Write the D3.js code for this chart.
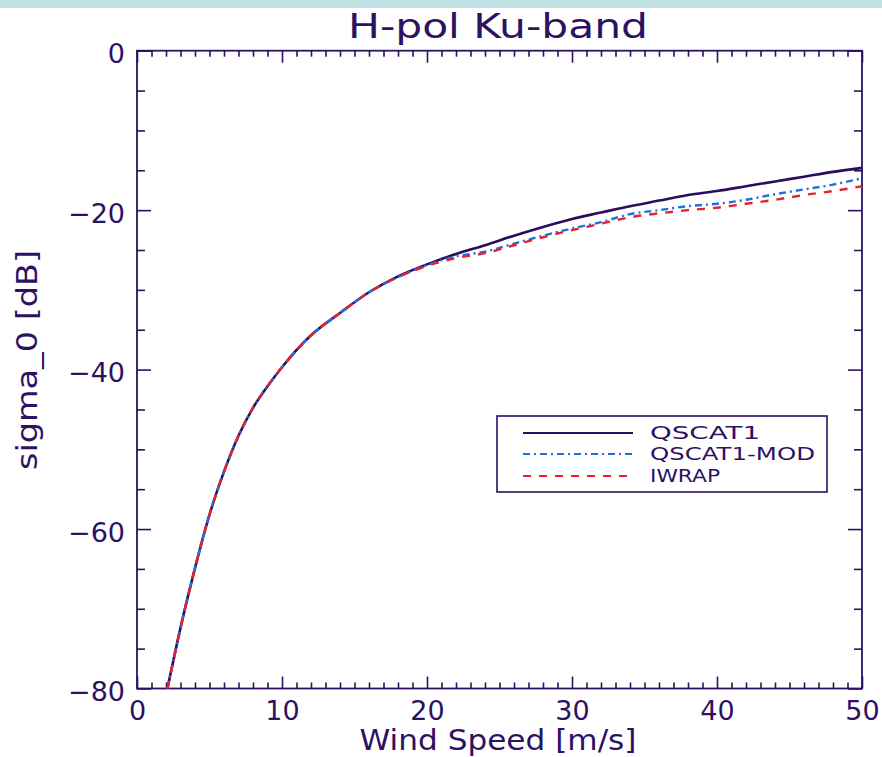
<!DOCTYPE html>
<html><head><meta charset="utf-8">
<script src="https://cdn.jsdelivr.net/npm/d3@7"></script>
<style>body{margin:0;background:#fff;} text{font-family:"DejaVu Sans",sans-serif;}</style>
</head><body>
<svg id="c" width="882" height="757"></svg>
<script>
const title = "H-pol Ku-band";
const xLabel = "Wind Speed [m/s]";
const yLabel = "sigma_0 [dB]";
const seriesNames = ["QSCAT1", "QSCAT1-MOD", "IWRAP"];
const windSpeed = [2.1, 3, 4, 5, 6, 7, 8, 9, 10, 12, 14, 16, 18, 20, 22, 24, 26, 28, 30, 32, 34, 36, 38, 40, 42, 44, 46, 48, 50];
const qscat1 =    [-80, -72.4, -64.9, -58.2, -52.8, -48.3, -44.8, -42.1, -39.7, -35.7, -32.9, -30.3, -28.3, -26.8, -25.5, -24.4, -23.2, -22.1, -21.1, -20.3, -19.5, -18.8, -18.1, -17.6, -17.0, -16.4, -15.8, -15.2, -14.7];
const qscat1Mod = [-80, -72.4, -64.9, -58.2, -52.8, -48.3, -44.8, -42.1, -39.7, -35.7, -32.9, -30.3, -28.4, -26.9, -25.8, -25.2, -24.2, -23.2, -22.3, -21.5, -20.5, -20.0, -19.5, -19.2, -18.7, -18.0, -17.4, -16.8, -16.0];
const iwrap =     [-80, -72.4, -64.9, -58.2, -52.8, -48.3, -44.8, -42.1, -39.7, -35.7, -32.9, -30.3, -28.4, -27.0, -26.0, -25.4, -24.4, -23.4, -22.5, -21.7, -20.9, -20.4, -20.0, -19.7, -19.2, -18.7, -18.1, -17.6, -17.0];
const xTicks = [0, 10, 20, 30, 40, 50];
const yTicks = [0, -20, -40, -60, -80];

const ink = "#2d1163";
const colors = ["#2a0d5c", "#1f6fe0", "#e8202a"];
const dashes = [null, "7,4,2,4", "8,8"];
const widths = [2.6, 2.4, 2.4];

const svg = d3.select("#c");
svg.append("rect").attr("x",0).attr("y",0).attr("width",882).attr("height",8).attr("fill","#bfe2e4");

const L = 137, R = 862, T = 50.7, B = 688.5;
const x = d3.scaleLinear().domain([0, 50]).range([L, R]);
const y = d3.scaleLinear().domain([-80, 0]).range([B, T]);

svg.append("rect").attr("x", L).attr("y", T).attr("width", R - L).attr("height", B - T)
  .attr("fill", "none").attr("stroke", ink).attr("stroke-width", 1.8);

function styleAxis(g){
  g.select(".domain").remove();
  g.selectAll("line").attr("stroke", ink).attr("stroke-width", 1.6);
  g.selectAll("text").attr("fill", ink).style("font-size","27px").style("font-family","DejaVu Sans, sans-serif");
}
const minorX = d3.range(0, 51, 1).filter(v => v % 10 !== 0);
const minorY = d3.range(-80, 1, 5).filter(v => v % 20 !== 0);

svg.append("g").attr("transform",`translate(0,${B})`)
  .call(d3.axisBottom(x).tickValues(xTicks).tickFormat(d3.format("d")).tickSizeInner(-12).tickSizeOuter(0).tickPadding(12))
  .call(styleAxis);
svg.append("g").attr("transform",`translate(0,${B})`)
  .call(d3.axisBottom(x).tickValues(minorX).tickFormat("").tickSizeInner(-6).tickSizeOuter(0)).call(styleAxis);
svg.append("g").attr("transform",`translate(0,${T})`)
  .call(d3.axisTop(x).tickValues(xTicks).tickFormat("").tickSizeInner(-12).tickSizeOuter(0)).call(styleAxis);
svg.append("g").attr("transform",`translate(0,${T})`)
  .call(d3.axisTop(x).tickValues(minorX).tickFormat("").tickSizeInner(-6).tickSizeOuter(0)).call(styleAxis);
svg.append("g").attr("transform",`translate(${L},0)`)
  .call(d3.axisLeft(y).tickValues(yTicks).tickFormat(d3.format("d")).tickSizeInner(-14).tickSizeOuter(0).tickPadding(12))
  .call(styleAxis)
  .call(g => g.selectAll("text").attr("dy", "0.45em"));
svg.append("g").attr("transform",`translate(${L},0)`)
  .call(d3.axisLeft(y).tickValues(minorY).tickFormat("").tickSizeInner(-8).tickSizeOuter(0)).call(styleAxis);
svg.append("g").attr("transform",`translate(${R},0)`)
  .call(d3.axisRight(y).tickValues(yTicks).tickFormat("").tickSizeInner(-14).tickSizeOuter(0)).call(styleAxis);
svg.append("g").attr("transform",`translate(${R},0)`)
  .call(d3.axisRight(y).tickValues(minorY).tickFormat("").tickSizeInner(-8).tickSizeOuter(0)).call(styleAxis);

const series = [qscat1, qscat1Mod, iwrap];
const line = d3.line().x(d => x(d[0])).y(d => y(d[1])).curve(d3.curveMonotoneX);
series.forEach((vals, i) => {
  const pts = windSpeed.map((w, j) => [w, vals[j]]);
  svg.append("path").attr("d", line(pts)).attr("fill","none")
    .attr("stroke", colors[i]).attr("stroke-width", widths[i])
    .attr("stroke-dasharray", dashes[i]);
});

svg.append("text").attr("x", 498).attr("y", 38).attr("text-anchor","middle")
  .attr("fill", ink).style("font-size","33px").attr("textLength", 300).attr("lengthAdjust","spacingAndGlyphs")
  .text(title);
svg.append("text").attr("x", 498).attr("y", 750).attr("text-anchor","middle")
  .attr("fill", ink).style("font-size","28px").attr("textLength", 277).attr("lengthAdjust","spacingAndGlyphs")
  .text(xLabel);
svg.append("text").attr("transform","translate(37,360) rotate(-90)").attr("text-anchor","middle")
  .attr("fill", ink).style("font-size","28px").attr("textLength", 220).attr("lengthAdjust","spacingAndGlyphs")
  .text(yLabel);

const lg = svg.append("g");
lg.append("rect").attr("x", 497).attr("y", 416).attr("width", 330).attr("height", 76)
  .attr("fill","#fff").attr("stroke", ink).attr("stroke-width", 1.6);
const rowsY = [433, 454, 476];
const textW = [110, 165, 70];
seriesNames.forEach((n, i) => {
  lg.append("line").attr("x1", 523).attr("x2", 633).attr("y1", rowsY[i]).attr("y2", rowsY[i])
    .attr("stroke", colors[i]).attr("stroke-width", 1.8).attr("stroke-dasharray", dashes[i]);
  lg.append("text").attr("x", 650).attr("y", rowsY[i] + 6).attr("fill", ink)
    .style("font-size","18px").attr("textLength", textW[i]).attr("lengthAdjust","spacingAndGlyphs").text(n);
});
</script>
</body></html>
